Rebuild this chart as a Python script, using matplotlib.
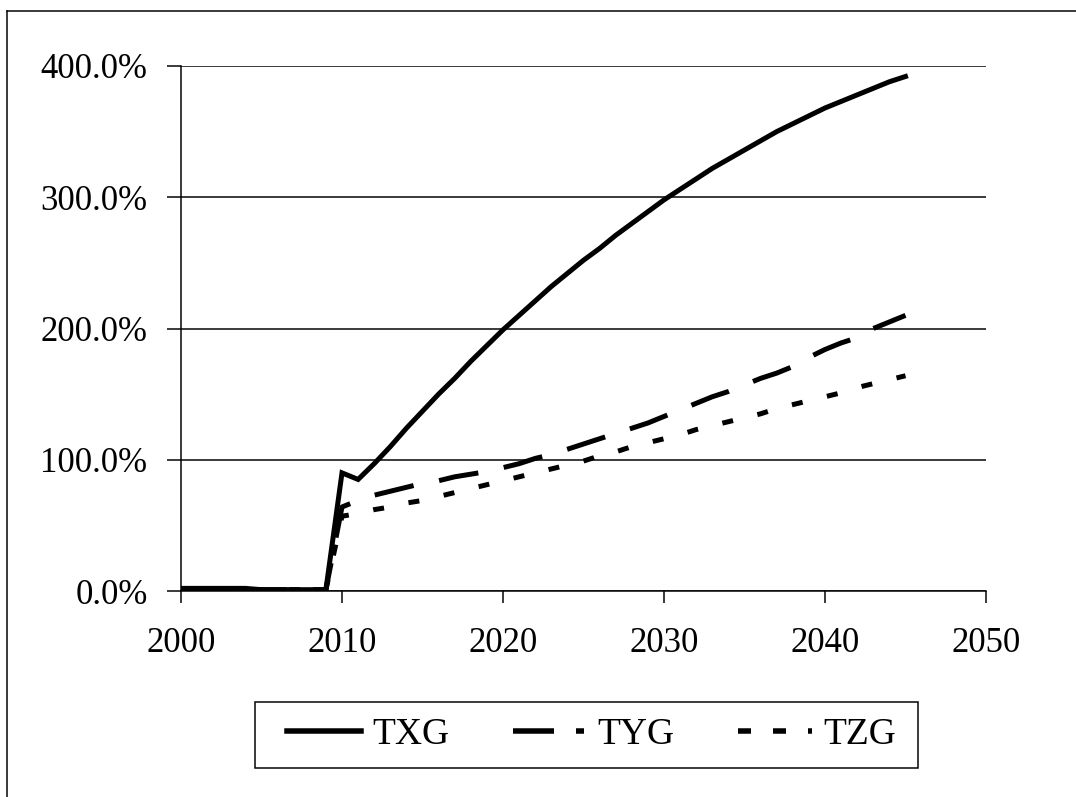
import matplotlib
matplotlib.use("Agg")
import matplotlib.pyplot as plt
from matplotlib.lines import Line2D
from matplotlib.patches import Rectangle
from matplotlib.ticker import FuncFormatter

plt.rcParams['font.family'] = ['Liberation Serif', 'DejaVu Serif']
plt.rcParams['lines.scale_dashes'] = False

years = list(range(2000, 2046))
txg = [2, 2, 2, 2, 2, 1, 1, 1, 1, 1,
       90, 85, 97, 110, 124, 137, 150, 162, 175, 187,
       199, 210, 221, 232, 242, 252, 261, 271, 280, 289,
       298, 306, 314, 322, 329, 336, 343, 350, 356, 362,
       368, 373, 378, 383, 388, 392]
tyg = [1, 1, 1, 1, 1, 1, 1, 1, 1, 1,
       64, 69, 73, 76, 79, 82, 84, 87, 89, 91,
       94, 97, 101, 104, 108, 112, 116, 120, 124, 128,
       133, 138, 143, 148, 152, 157, 162, 166, 171, 178,
       184, 189, 193, 200, 205, 210]
tzg = [1, 1, 1, 1, 1, 1, 1, 1, 1, 1,
       57, 59, 62, 64, 67, 69, 72, 75, 78, 81,
       84, 87, 90, 93, 96, 99, 103, 106, 110, 113,
       116, 119, 123, 126, 129, 132, 135, 139, 142, 145,
       148, 151, 155, 158, 161, 164]
series_names = ['TXG', 'TYG', 'TZG']
y_ticks = [0, 100, 200, 300, 400]
x_ticks = [2000, 2010, 2020, 2030, 2040, 2050]

W, H = 1076, 797
fig = plt.figure(figsize=(W / 100, H / 100), dpi=100)
ax = fig.add_axes([181 / W, 1 - 591 / H, (986 - 181) / W, (591 - 66) / H])

px = 0.72  # points per pixel
lw = 5 * px
dash_tyg = (0, (40 * px, 26 * px))
dash_tzg = (0, (11 * px, 25 * px))

ax.plot(years, txg, color='black', lw=lw, solid_joinstyle='miter', zorder=3)
ax.plot(years, tyg, color='black', lw=lw, linestyle=dash_tyg, dash_capstyle='butt', zorder=3)
ax.plot(years, tzg, color='black', lw=lw, linestyle=dash_tzg, dash_capstyle='butt', zorder=3)

ax.set_xlim(2000, 2050)
ax.set_ylim(0, 400)
ax.set_xticks(x_ticks)
ax.set_yticks(y_ticks)
ax.yaxis.set_major_formatter(FuncFormatter(lambda v, p: f"{v:.1f}%"))
ax.grid(axis='y', color='black', lw=1.5 * px)
ax.set_axisbelow(True)
for s in ['top', 'right']:
    ax.spines[s].set_visible(False)
for s in ['left', 'bottom']:
    ax.spines[s].set_linewidth(1.5 * px)
ax.tick_params(axis='y', direction='out', length=14 * px, width=1.5 * px, pad=14, labelsize=25)
ax.tick_params(axis='x', direction='out', length=12 * px, width=1.5 * px, pad=17, labelsize=25)

handles = [
    Line2D([], [], color='black', lw=5.5 * px),
    Line2D([], [], color='black', lw=5.5 * px, linestyle=(0, (41 * px, 22 * px, 8 * px, 10 * px)), dash_capstyle='butt'),
    Line2D([], [], color='black', lw=5.5 * px, linestyle=(0, (13 * px, 22 * px)), dash_capstyle='butt'),
]
leg = fig.legend(handles, series_names, loc='center',
                 bbox_to_anchor=((287 + 896) / 2 / W, 1 - 735 / H),
                 ncol=3, fontsize=27, frameon=False,
                 handlelength=1.97, handletextpad=0.29,
                 columnspacing=1.7, borderpad=0, borderaxespad=0)

# legend frame box
fig.add_artist(Rectangle((255 / W, 1 - 768 / H), (918 - 255) / W, (768 - 702) / H,
                         transform=fig.transFigure, fill=False, edgecolor='black', lw=1.5 * px))

# outer chart border (top and left visible)
fig.add_artist(Line2D([7 / W, 1.0], [1 - 11 / H, 1 - 11 / H], color='black', lw=1.5 * px, transform=fig.transFigure))
fig.add_artist(Line2D([7 / W, 7 / W], [1 - 11 / H, 0.0], color='black', lw=1.5 * px, transform=fig.transFigure))

fig.savefig('out.png', dpi=100)
